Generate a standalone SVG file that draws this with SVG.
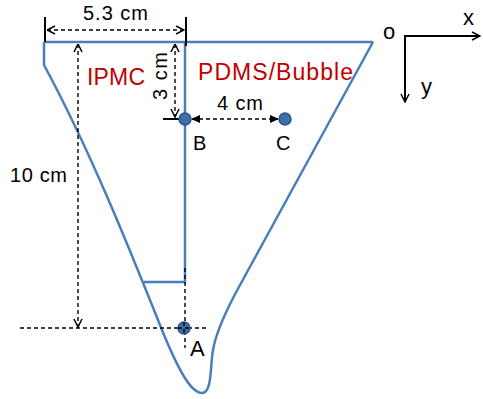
<svg xmlns="http://www.w3.org/2000/svg" width="483" height="399" viewBox="0 0 483 399">
<style>
.outline{fill:none;stroke:#4a7ebb;stroke-width:2.5;stroke-linejoin:round}
.dash{fill:none;stroke:#000;stroke-width:1.4;stroke-dasharray:4,3}
.solid{fill:none;stroke:#000;stroke-width:2}
.pt{fill:#3d6ea8;stroke:#2a5689;stroke-width:1.5}
.lbl{font-family:"Liberation Sans",Arial,sans-serif;font-size:20px;fill:#000}
.red{font-family:"Liberation Sans",Arial,sans-serif;font-size:23px;fill:#c00000}
</style>
<defs>
<marker id="open" viewBox="0 0 10 10" refX="9.5" refY="5" markerWidth="10" markerHeight="10" markerUnits="userSpaceOnUse" orient="auto-start-reverse">
<path d="M1.5,1 L9.5,5 L1.5,9" fill="none" stroke="#000" stroke-width="1.5"/>
</marker>
<marker id="fill" viewBox="0 0 10 10" refX="9" refY="5" markerWidth="9" markerHeight="9" markerUnits="userSpaceOnUse" orient="auto-start-reverse">
<path d="M0,0.5 L10,5 L0,9.5 Z" fill="#000"/>
</marker>
</defs>
<g id="shape">
<path class="outline" d="M44,42 L373,42"/>
<path class="outline" d="M44,42 L44,65 C90,150 130,250 160,325 C180,375 192,393 202,393 C212,393 210,368 213,350 C216,332 229,305 240,285 L373,42"/>
<path class="outline" d="M185,42 L185,282"/>
<path class="outline" d="M144,282 L186,282" stroke-width="3"/>
</g>
<g id="labels">
<text class="red" x="87" y="85" textLength="58">IPMC</text>
<text class="red" x="198" y="80" textLength="155">PDMS/Bubble</text>
</g>
<g id="connectors">
<line class="solid" x1="45" y1="17" x2="45" y2="42"/>
<line class="solid" x1="186" y1="17" x2="186" y2="46"/>
<line class="dash" x1="47" y1="30" x2="184" y2="30" marker-start="url(#open)" marker-end="url(#open)"/>
<line class="dash" x1="78" y1="44" x2="78" y2="327" marker-start="url(#open)" marker-end="url(#open)"/>
<line class="dash" x1="175" y1="44" x2="175" y2="117" marker-start="url(#open)" marker-end="url(#open)"/>
<line class="solid" x1="163" y1="119" x2="182" y2="119"/>
<line class="dash" x1="192" y1="119" x2="278" y2="119" marker-start="url(#fill)" marker-end="url(#fill)"/>
<line class="dash" x1="20" y1="328" x2="207" y2="328"/>
<line class="dash" x1="185" y1="268" x2="185" y2="348"/>
<text class="lbl" x="83" y="20" textLength="65">5.3 cm</text>
<text class="lbl" x="10" y="182" textLength="57">10 cm</text>
<text class="lbl" x="217" y="110" textLength="46">4 cm</text>
<text class="lbl" transform="translate(167,76) rotate(-90)" text-anchor="middle" textLength="48">3 cm</text>
</g>
<g id="pointB">
<circle class="pt" cx="185" cy="119" r="6"/>
<text class="lbl" x="193" y="150">B</text>
</g>
<g id="pointC">
<circle class="pt" cx="285" cy="119" r="6"/>
<text class="lbl" x="276" y="150">C</text>
</g>
<g id="pointA">
<circle class="pt" cx="184" cy="328" r="6"/>
<line class="dash" x1="178" y1="328" x2="190" y2="328"/>
<line class="dash" x1="184" y1="322" x2="184" y2="334"/>
<text class="lbl" x="190" y="356" style="font-size:22px">A</text>
</g>
<g id="axes">
<text class="lbl" x="383" y="39" style="font-size:22px">o</text>
<line class="solid" x1="405" y1="36" x2="480" y2="36" stroke-width="1.5" marker-end="url(#open)"/>
<line class="solid" x1="405" y1="35" x2="405" y2="102" stroke-width="1.5" marker-end="url(#open)"/>
<text class="lbl" x="463" y="25" style="font-size:22px">x</text>
<text class="lbl" x="421" y="94" style="font-size:22px">y</text>
</g>
</svg>
